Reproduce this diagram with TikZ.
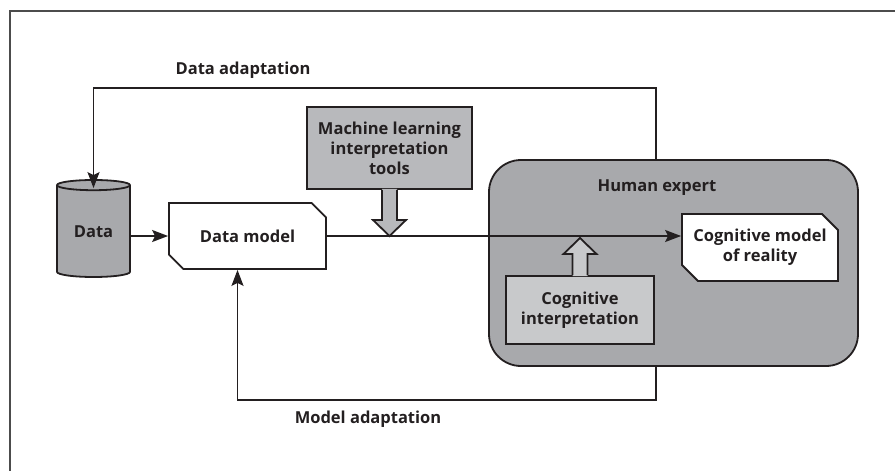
\documentclass[tikz,border=0pt]{standalone}
\usepackage{fontspec}
\setmainfont{Open Sans}
\usetikzlibrary{shapes.geometric,shapes.misc,arrows.meta,calc}

\definecolor{ink}{RGB}{35,31,32}
\definecolor{expertgray}{RGB}{168,169,172}
\definecolor{toolgray}{RGB}{184,185,188}
\definecolor{cogngray}{RGB}{200,201,203}

\def\shaft{7.5}
\def\head{16.5}
\def\headlen{16}

\begin{document}
\begin{tikzpicture}[x=1pt,y=-1pt,color=ink,line width=1.8pt,
  font=\fontsize{16.5}{20}\selectfont\bfseries]
  \tikzset{
    store/.style={cylinder,shape border rotate=90,aspect=0.26,draw,fill=expertgray,
      minimum height=97pt,minimum width=73pt,inner sep=0pt},
    model/.style={chamfered rectangle,chamfered rectangle corners={north east,south west},
      chamfered rectangle sep=8pt,draw,fill=white,align=center,inner sep=0pt},
    tools/.style={rectangle,draw,align=center,inner sep=0pt},
    flow/.style={-{Stealth[length=16pt,width=12pt,inset=3pt]}}
  }
  \useasboundingbox (0,0) rectangle (895,471);
  \draw[line width=1.3pt,black!70] (10,471) -- (10,11) -- (895,11);

  % boxes
  \node[store] (data) at (93.5,231.5) {Data};
  \node[model,minimum width=157pt,minimum height=66pt] (dm) at (247.5,236) {Data model};
  \node[tools,fill=toolgray,minimum width=165pt,minimum height=82pt] (ml) at (389.5,148)
    {Machine learning\\interpretation\\tools};
  \node[draw,fill=expertgray,rounded corners=32pt,minimum width=369pt,minimum height=206pt]
    (expert) at (673.5,263) {};
  \node (expertlabel) at (657,188) {Human expert};
  \node[model,minimum width=156pt,minimum height=67pt] (cog) at (760,247.5)
    {Cognitive model\\of reality};
  \node[tools,fill=cogngray,minimum width=148pt,minimum height=68pt] (ci) at (580,310)
    {Cognitive\\interpretation};

  % block arrows
  \coordinate (mltip) at (ml.south |- dm.east);
  \fill[toolgray] ([xshift=-\shaft pt,yshift=1pt]ml.south) -- ($(mltip)+(-\shaft,-\headlen)$)
    -- ($(mltip)+(-\head,-\headlen)$) -- (mltip) -- ($(mltip)+(\head,-\headlen)$)
    -- ($(mltip)+(\shaft,-\headlen)$) -- ([xshift=\shaft pt,yshift=1pt]ml.south) -- cycle;
  \draw[line join=miter] ([xshift=-\shaft pt]ml.south) -- ($(mltip)+(-\shaft,-\headlen)$)
    -- ($(mltip)+(-\head,-\headlen)$) -- (mltip) -- ($(mltip)+(\head,-\headlen)$)
    -- ($(mltip)+(\shaft,-\headlen)$) -- ([xshift=\shaft pt]ml.south);
  \coordinate (citip) at ([yshift=-2pt]ci.north |- dm.east);
  \fill[cogngray] ([xshift=-\shaft pt,yshift=-1pt]ci.north) -- ($(citip)+(-\shaft,\headlen)$)
    -- ($(citip)+(-\head,\headlen)$) -- (citip) -- ($(citip)+(\head,\headlen)$)
    -- ($(citip)+(\shaft,\headlen)$) -- ([xshift=\shaft pt,yshift=-1pt]ci.north) -- cycle;
  \draw[line join=miter] ([xshift=-\shaft pt]ci.north) -- ($(citip)+(-\shaft,\headlen)$)
    -- ($(citip)+(-\head,\headlen)$) -- (citip) -- ($(citip)+(\head,\headlen)$)
    -- ($(citip)+(\shaft,\headlen)$) -- ([xshift=\shaft pt]ci.north);

  % connectors
  \draw[flow] (data.east |- dm) -- (dm.west);
  \draw[flow] (dm.east) -- (dm.east -| cog.west);
  \coordinate (datatop) at (656,88);
  \coordinate (modelbot) at (656,400);
  \draw[flow] (expert.north -| datatop) -- (datatop) -| ([yshift=-9pt]data.north);
  \draw[flow] (expert.south -| modelbot) -- (modelbot) -| ([xshift=-10pt]dm.south);

  \node (dataadapt) at (243,70) {Data adaptation};
  \node (modeladapt) at (368,419) {Model adaptation};
\end{tikzpicture}
\end{document}
